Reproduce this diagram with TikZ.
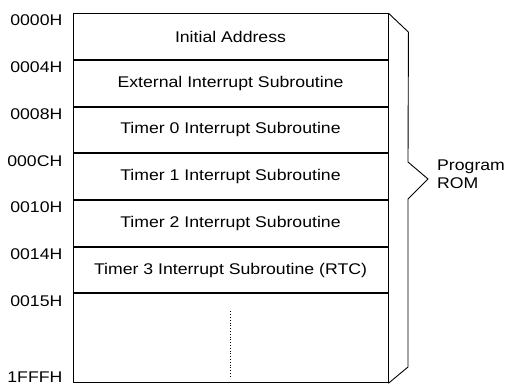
\documentclass[tikz,border=0pt]{standalone}
\usepackage{fontspec}
\setmainfont{Liberation Sans}[FakeStretch=1.14]
\usetikzlibrary{positioning}

\tikzset{
  row/.style={draw,line width=0.9pt,minimum width=315pt,minimum height=45.8pt,
    inner sep=0pt,font=\fontsize{15.5}{18}\selectfont},
  addr/.style={anchor=east,inner sep=0pt,font=\fontsize{15.5}{18}\selectfont},
}

\begin{document}
\begin{tikzpicture}[x=1pt,y=-1pt]
  \useasboundingbox (0,0) rectangle (509,385);
  % memory map rows
  \node[row] (r0) at (230.5,36.5) {Initial Address};
  \node[row,below=0pt of r0] (r1) {External Interrupt Subroutine};
  \node[row,below=0pt of r1] (r2) {Timer 0 Interrupt Subroutine};
  \node[row,below=0pt of r2] (r3) {Timer 1 Interrupt Subroutine};
  \node[row,below=0pt of r3] (r4) {Timer 2 Interrupt Subroutine};
  \node[row,below=0pt of r4] (r5) {Timer 3 Interrupt Subroutine (RTC)};
  \node[row,below=0pt of r5,minimum height=89pt] (r6) {};
  \draw[dotted,line width=0.8pt] ([yshift=-18pt]r6.north) coordinate (d0) -- ([yshift=7pt]r6.south) coordinate (d1);
  % addresses
  \node[addr] (a0) at ([xshift=-10pt,yshift=-7.5pt]r0.north west) {0000H};
  \node[addr] (a1) at ([xshift=-10pt,yshift=-7.5pt]r1.north west) {0004H};
  \node[addr] (a2) at ([xshift=-10pt,yshift=-7.5pt]r2.north west) {0008H};
  \node[addr] (a3) at ([xshift=-10pt,yshift=-7.5pt]r3.north west) {000CH};
  \node[addr] (a4) at ([xshift=-10pt,yshift=-7.5pt]r4.north west) {0010H};
  \node[addr] (a5) at ([xshift=-10pt,yshift=-7.5pt]r5.north west) {0014H};
  \node[addr] (a6) at ([xshift=-10pt,yshift=-7.5pt]r6.north west) {0015H};
  \node[addr] (a7) at ([xshift=-10pt,yshift=6pt]r6.south west) {1FFFH};
  % brace
  \coordinate (tip) at (428,179);
  \draw[line width=0.9pt] (r0.north east) -- ++(20,19) -- (408,162) -- (tip)
    -- (408,199) -- (408,367) -- (r6.south east);
  \node[anchor=west,align=left,inner sep=0pt,font=\fontsize{15.5}{18}\selectfont]
    (rom) at ([xshift=9pt,yshift=5pt]tip) {Program\\ROM};
\end{tikzpicture}
\end{document}
